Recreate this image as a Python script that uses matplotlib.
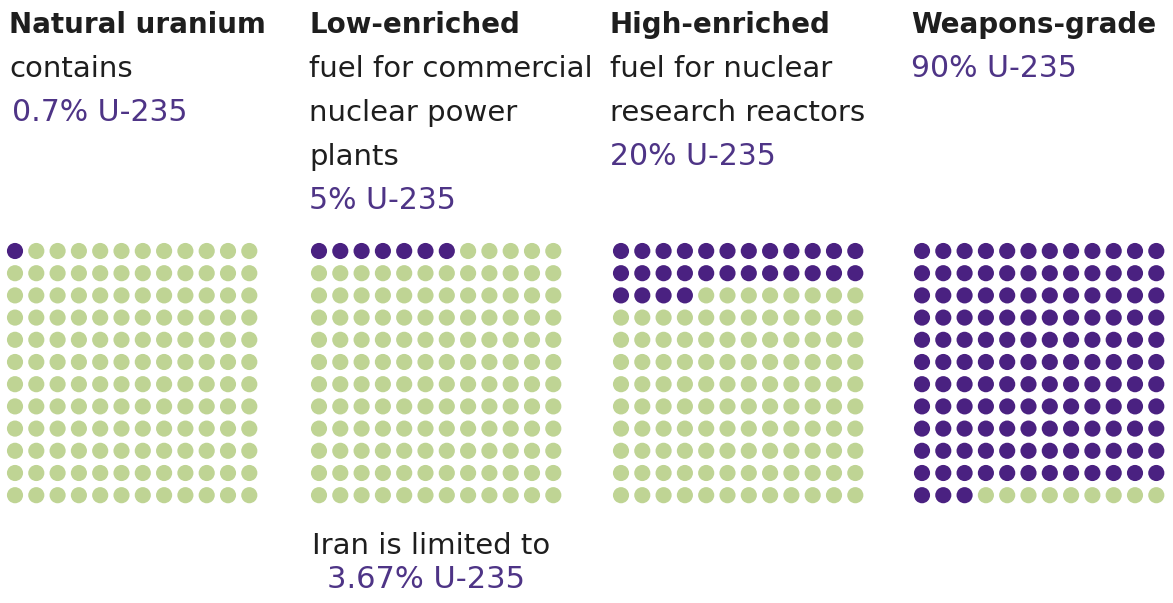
import matplotlib
matplotlib.use("Agg")
from matplotlib import pyplot as plt
import numpy as np

plt.rcParams['font.family'] = ['DejaVu Sans']

# data
titles = ["Natural uranium", "Low-enriched", "High-enriched", "Weapons-grade"]
descriptions = [["contains"],
                ["fuel for commercial", "nuclear power", "plants"],
                ["fuel for nuclear", "research reactors"],
                []]
shares = ["0.7% U-235", "5% U-235", "20% U-235", "90% U-235"]
purple_dots = [1, 7, 28, 135]
grid_cols = 12
grid_rows = 12
note_lines = ["Iran is limited to", "3.67% U-235"]

PURPLE = "#4a2181"
GREEN = "#bfd494"
TEXT_PURPLE = "#4e3486"
TEXT_DARK = "#1e1e1e"

W, H = 1173, 603
fig = plt.figure(figsize=(W / 100, H / 100), dpi=100)


def fx(px):
    return px / W


def fy(py):
    return 1 - py / H


# text columns
text_left = [9, 309, 610, 911]
line_step = 44
for i, left in enumerate(text_left):
    fig.text(fx(left), fy(33), titles[i], fontsize=20, fontweight="bold",
             color=TEXT_DARK, va="baseline", ha="left")
    y = 33
    for line in descriptions[i]:
        y += line_step
        fig.text(fx(left), fy(y), line, fontsize=21, color=TEXT_DARK,
                 va="baseline", ha="left")
    y += line_step
    shift = 3 if i == 0 else 0
    fig.text(fx(left + shift), fy(y), shares[i], fontsize=21.5, color=TEXT_PURPLE,
             va="baseline", ha="left")

fig.text(fx(312), fy(554), note_lines[0], fontsize=21, color=TEXT_DARK,
         va="baseline", ha="left")
fig.text(fx(327), fy(588), note_lines[1], fontsize=22, color=TEXT_PURPLE,
         va="baseline", ha="left")

# dot grids
first_dot_x = [15, 319, 621, 922]
dx = 21.3
dy = 22.2
top_dot_y = 251
cols, rows = np.meshgrid(np.arange(grid_cols), np.arange(grid_rows))
cols = cols.ravel()
rows = rows.ravel()

for i, x0 in enumerate(first_dot_x):
    left = x0 - dx / 2
    top = top_dot_y - dy / 2
    ax = fig.add_axes([fx(left), fy(top + grid_rows * dy),
                       grid_cols * dx / W, grid_rows * dy / H])
    colors = [PURPLE if k < purple_dots[i] else GREEN for k in range(len(cols))]
    ax.scatter(cols, rows, s=135, c=colors, linewidths=0)
    ax.set_xlim(-0.5, grid_cols - 0.5)
    ax.set_ylim(grid_rows - 0.5, -0.5)
    ax.axis("off")

fig.savefig("out.png", dpi=100)
